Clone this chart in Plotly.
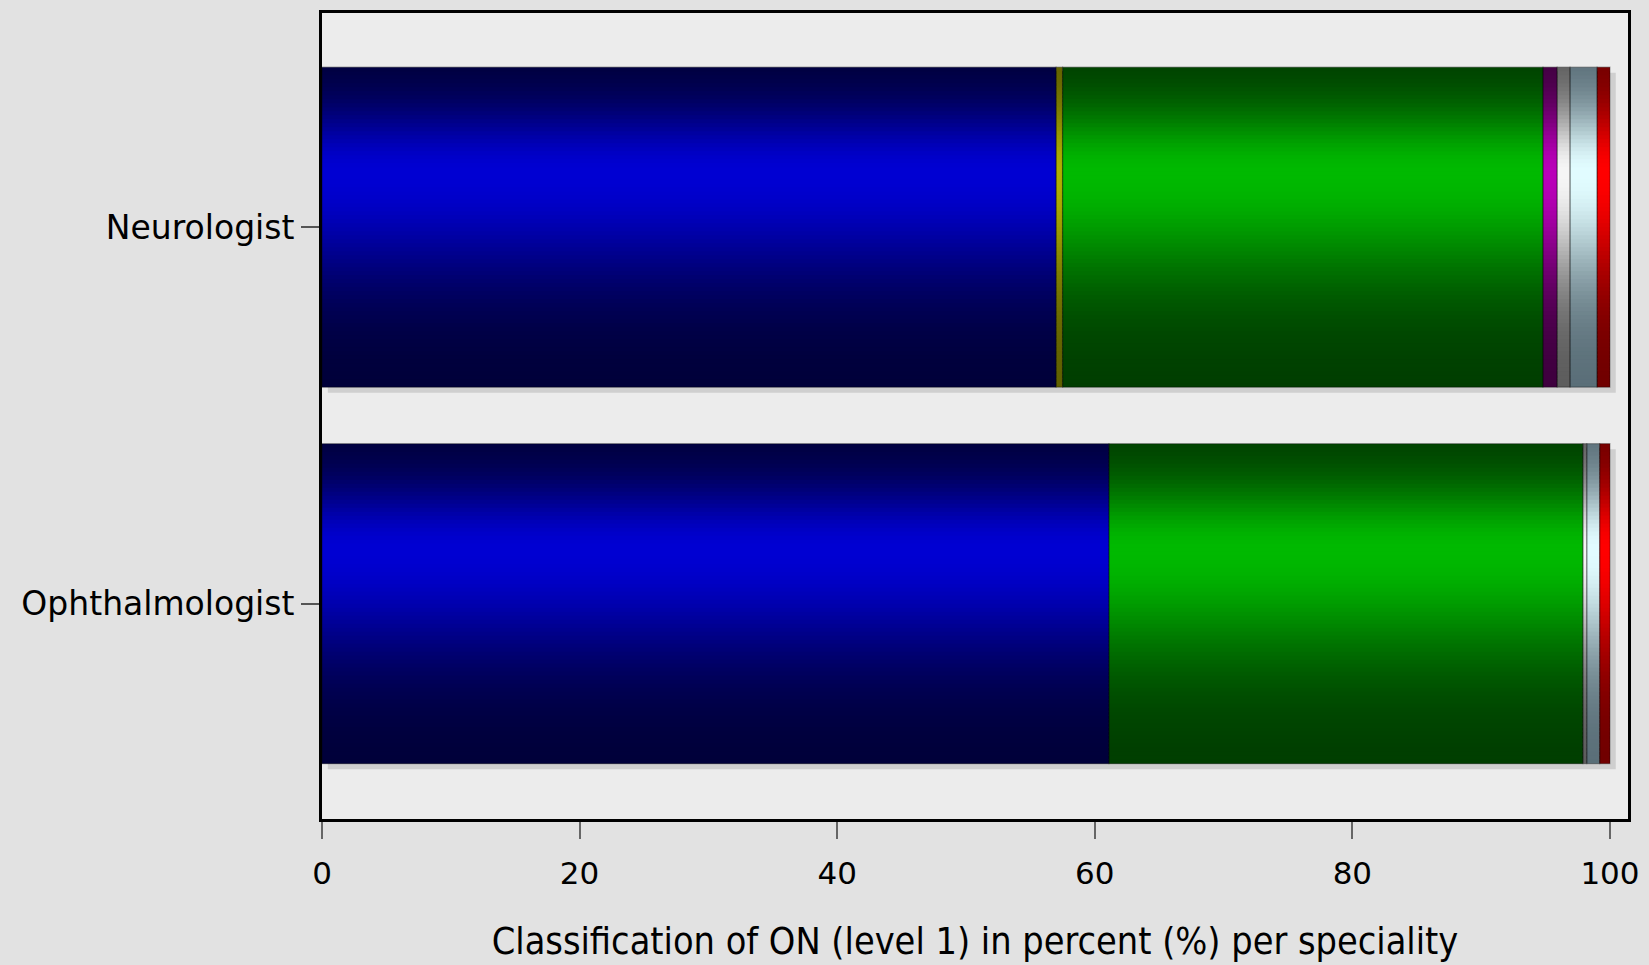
import plotly.graph_objects as go
import math

# ---------------- data ----------------
categories = ["Neurologist", "Ophthalmologist"]
segment_names = ["Blue", "Olive", "Green", "Purple", "Gray", "Steel", "Red"]
neurologist_values = [57.0, 0.5, 37.3, 1.1, 1.0, 2.1, 1.0]
ophthalmologist_values = [61.1, 0.0, 36.8, 0.0, 0.3, 1.0, 0.8]
x_tick_values = [0, 20, 40, 60, 80, 100]
x_title = "Classification of ON (level 1) in percent (%) per speciality"

# ---------------- style ----------------
bright_colors = {
    "Blue": (0, 0, 210), "Olive": (175, 175, 0), "Green": (0, 185, 0),
    "Purple": (185, 0, 185), "Gray": (245, 245, 245), "Steel": (225, 252, 255),
    "Red": (255, 0, 0),
}
dark_colors = {
    "Blue": (0, 0, 55), "Olive": (95, 95, 0), "Green": (0, 60, 0),
    "Purple": (60, 0, 60), "Gray": (90, 90, 90), "Steel": (88, 108, 118),
    "Red": (110, 0, 0),
}
BAR_W = 0.85
N_STRIPS = 80

def profile(t):
    peak = 0.33
    w = 0.2 if t < peak else 0.33
    return math.exp(-((t - peak) / w) ** 2)

def mix(c1, c2, a):
    return "rgb(%d,%d,%d)" % tuple(round(c1[k] + (c2[k] - c1[k]) * a) for k in range(3))

rows = [neurologist_values, ophthalmologist_values]
ys, xs, bases, names = [], [], [], []
for cat, vals in zip(categories, rows):
    cum = 0.0
    for name, v in zip(segment_names, vals):
        if v > 0:
            ys.append(cat); xs.append(v); bases.append(cum); names.append(name)
        cum += v
totals = [sum(v) for v in rows]

fig = go.Figure()

# soft shadow
fig.add_trace(go.Bar(
    y=categories, x=totals, base=[0.45] * len(categories), orientation="h",
    width=BAR_W, offset=-BAR_W / 2 + 0.015,
    marker=dict(color="rgba(0,0,0,0.12)", line=dict(width=0)),
    hoverinfo="skip", showlegend=False))

sw = BAR_W / N_STRIPS
for i in range(N_STRIPS):
    t = (i + 0.5) / N_STRIPS
    a = profile(t)
    cols = [mix(dark_colors[n], bright_colors[n], a) for n in names]
    fig.add_trace(go.Bar(
        y=ys, x=xs, base=bases, orientation="h",
        width=sw * 1.8 if i < N_STRIPS - 1 else sw, offset=-BAR_W / 2 + i * sw,
        marker=dict(color=cols, line=dict(width=0)),
        hoverinfo="skip", showlegend=False))

# segment outlines
fig.add_trace(go.Bar(
    y=ys, x=xs, base=bases, orientation="h",
    width=BAR_W, offset=-BAR_W / 2,
    marker=dict(color="rgba(0,0,0,0)", line=dict(width=1.2, color="rgba(0,0,0,0.3)")),
    hoverinfo="skip", showlegend=False))

fig.update_layout(
    width=1649, height=965,
    margin=dict(l=322, r=13, t=10, b=137),
    paper_bgcolor="#e2e2e2",
    plot_bgcolor="#ececec",
    barmode="overlay",
    showlegend=False,
    font=dict(family="DejaVu Sans, Liberation Sans, sans-serif", color="black"),
)
fig.update_xaxes(
    range=[0, 101.4], tickvals=x_tick_values,
    showgrid=False, zeroline=False,
    showline=True, linecolor="black", linewidth=3, mirror=True,
    ticks="outside", ticklen=17, tickwidth=2, tickcolor="#666666",
    ticklabelstandoff=8,
    tickfont=dict(size=31, family="DejaVu Sans, sans-serif"),
    title=dict(text=x_title, standoff=38,
               font=dict(size=37.5, family="Liberation Sans Narrow, DejaVu Sans Condensed, Liberation Sans, sans-serif")),
)
fig.update_yaxes(
    type="category", categoryorder="array", categoryarray=categories,
    range=[1.572, -0.569],
    showgrid=False, zeroline=False,
    showline=True, linecolor="black", linewidth=3, mirror=True,
    ticks="outside", ticklen=18, tickwidth=2, tickcolor="#555555",
    tickfont=dict(size=33, family="DejaVu Sans, sans-serif"),
)

fig.write_html("out.html", config={"displayModeBar": False},
               post_script="document.body.style.margin='0';document.body.style.overflow='hidden';")
